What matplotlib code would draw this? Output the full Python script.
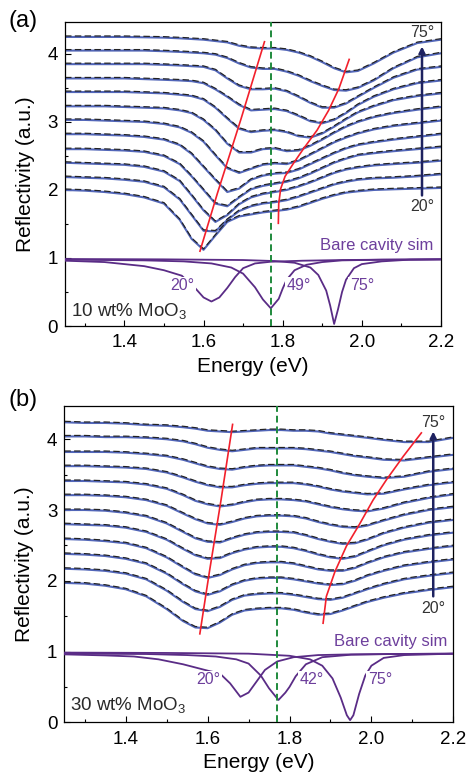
import matplotlib
matplotlib.use('Agg')
import matplotlib.pyplot as plt
from matplotlib.ticker import MultipleLocator, FormatStrFormatter
from matplotlib.transforms import offset_copy

plt.rcParams['font.family'] = ['Liberation Sans', 'DejaVu Sans']
plt.rcParams['mathtext.fontset'] = 'custom'
plt.rcParams['mathtext.rm'] = 'Liberation Sans'
plt.rcParams['mathtext.default'] = 'regular'

# energy grid (eV) shared by all measured curves
energy = [1.25, 1.30, 1.35, 1.40, 1.45, 1.50, 1.54, 1.57, 1.60, 1.63, 1.66, 1.69, 1.72,
          1.75, 1.78, 1.81, 1.84, 1.87, 1.90, 1.93, 1.96, 1.99, 2.03, 2.08, 2.14, 2.20]
angles = [20, 25, 30, 35, 40, 45, 50, 55, 60, 65, 70, 75]

# (a) 10 wt% MoO3, offset reflectivity
a20 = [2.00, 1.99, 1.97, 1.94, 1.89, 1.80, 1.56, 1.28, 1.12, 1.33, 1.53, 1.61, 1.64,
       1.67, 1.69, 1.71, 1.75, 1.81, 1.87, 1.92, 1.96, 1.98, 2.00, 2.01, 2.02, 2.03]
a25 = [2.19, 2.18, 2.17, 2.15, 2.12, 2.04, 1.86, 1.63, 1.40, 1.39, 1.56, 1.69, 1.76,
       1.80, 1.82, 1.85, 1.90, 1.96, 2.02, 2.08, 2.12, 2.15, 2.17, 2.18, 2.20, 2.23]
a30 = [2.40, 2.39, 2.38, 2.37, 2.34, 2.27, 2.13, 1.92, 1.70, 1.53, 1.63, 1.79, 1.89,
       1.94, 1.97, 2.00, 2.05, 2.11, 2.18, 2.25, 2.30, 2.33, 2.36, 2.38, 2.40, 2.43]
a35 = [2.60, 2.60, 2.59, 2.58, 2.56, 2.50, 2.38, 2.20, 2.00, 1.80, 1.76, 1.89, 2.01,
       2.06, 2.09, 2.12, 2.17, 2.24, 2.32, 2.40, 2.46, 2.51, 2.54, 2.57, 2.60, 2.63]
a40 = [2.82, 2.82, 2.81, 2.80, 2.78, 2.74, 2.66, 2.53, 2.34, 2.15, 1.97, 2.02, 2.15,
       2.21, 2.24, 2.25, 2.30, 2.38, 2.46, 2.54, 2.61, 2.66, 2.70, 2.74, 2.78, 2.82]
a45 = [3.03, 3.03, 3.02, 3.01, 3.00, 2.97, 2.92, 2.84, 2.71, 2.51, 2.32, 2.25, 2.31,
       2.37, 2.39, 2.38, 2.43, 2.52, 2.61, 2.70, 2.77, 2.83, 2.89, 2.94, 2.98, 3.02]
a50 = [3.23, 3.23, 3.23, 3.22, 3.21, 3.20, 3.17, 3.13, 3.03, 2.88, 2.68, 2.55, 2.55,
       2.60, 2.61, 2.57, 2.58, 2.65, 2.74, 2.84, 2.93, 3.00, 3.07, 3.13, 3.18, 3.22]
a55 = [3.44, 3.44, 3.44, 3.44, 3.43, 3.42, 3.40, 3.38, 3.33, 3.21, 3.05, 2.90, 2.85,
       2.87, 2.88, 2.85, 2.79, 2.77, 2.83, 2.93, 3.04, 3.14, 3.23, 3.32, 3.38, 3.42]
a60 = [3.64, 3.64, 3.64, 3.64, 3.63, 3.62, 3.61, 3.60, 3.57, 3.48, 3.37, 3.25, 3.17,
       3.18, 3.19, 3.16, 3.09, 3.01, 2.98, 3.03, 3.13, 3.25, 3.37, 3.48, 3.57, 3.61]
a65 = [3.85, 3.85, 3.85, 3.85, 3.85, 3.84, 3.83, 3.82, 3.81, 3.76, 3.64, 3.53, 3.48,
       3.48, 3.49, 3.45, 3.37, 3.28, 3.21, 3.21, 3.27, 3.37, 3.50, 3.65, 3.77, 3.81]
a70 = [4.05, 4.05, 4.05, 4.05, 4.05, 4.04, 4.03, 4.02, 4.01, 3.99, 3.94, 3.86, 3.80,
       3.78, 3.78, 3.74, 3.68, 3.60, 3.53, 3.47, 3.46, 3.50, 3.61, 3.79, 3.95, 4.01]
a75 = [4.25, 4.25, 4.25, 4.25, 4.245, 4.24, 4.23, 4.22, 4.21, 4.19, 4.17, 4.12, 4.09,
       4.08, 4.08, 4.06, 4.02, 3.96, 3.88, 3.79, 3.73, 3.75, 3.86, 4.02, 4.16, 4.21]

# (b) 30 wt% MoO3
b20 = [1.97, 1.96, 1.93, 1.88, 1.78, 1.60, 1.43, 1.34, 1.33, 1.41, 1.52, 1.58, 1.60,
       1.61, 1.61, 1.59, 1.55, 1.52, 1.53, 1.58, 1.64, 1.70, 1.76, 1.82, 1.87, 1.91]
b25 = [2.17, 2.16, 2.14, 2.10, 2.02, 1.86, 1.70, 1.60, 1.57, 1.63, 1.73, 1.79, 1.81,
       1.82, 1.82, 1.80, 1.77, 1.74, 1.73, 1.76, 1.82, 1.88, 1.95, 2.02, 2.07, 2.11]
b30 = [2.38, 2.37, 2.35, 2.31, 2.24, 2.10, 1.95, 1.85, 1.80, 1.85, 1.94, 2.00, 2.03,
       2.04, 2.04, 2.02, 1.99, 1.96, 1.94, 1.95, 2.00, 2.07, 2.14, 2.21, 2.26, 2.30]
b35 = [2.59, 2.58, 2.56, 2.53, 2.46, 2.33, 2.19, 2.09, 2.04, 2.08, 2.16, 2.22, 2.25,
       2.26, 2.26, 2.24, 2.20, 2.16, 2.14, 2.14, 2.18, 2.25, 2.33, 2.40, 2.45, 2.49]
b40 = [2.80, 2.79, 2.78, 2.75, 2.69, 2.58, 2.45, 2.36, 2.31, 2.32, 2.39, 2.44, 2.47,
       2.48, 2.48, 2.46, 2.42, 2.37, 2.33, 2.31, 2.34, 2.41, 2.50, 2.58, 2.64, 2.68]
b45 = [3.00, 3.00, 2.99, 2.96, 2.91, 2.81, 2.69, 2.60, 2.55, 2.54, 2.60, 2.65, 2.68,
       2.69, 2.69, 2.68, 2.64, 2.59, 2.55, 2.52, 2.53, 2.58, 2.67, 2.75, 2.82, 2.86]
b50 = [3.21, 3.21, 3.20, 3.18, 3.14, 3.06, 2.95, 2.87, 2.81, 2.79, 2.83, 2.88, 2.91,
       2.92, 2.92, 2.91, 2.88, 2.83, 2.79, 2.76, 2.75, 2.78, 2.85, 2.93, 3.00, 3.04]
b55 = [3.41, 3.41, 3.40, 3.39, 3.36, 3.30, 3.21, 3.13, 3.08, 3.05, 3.07, 3.11, 3.14,
       3.15, 3.15, 3.14, 3.12, 3.08, 3.04, 3.01, 2.99, 2.98, 3.02, 3.10, 3.17, 3.22]
b60 = [3.62, 3.62, 3.61, 3.60, 3.58, 3.53, 3.46, 3.40, 3.35, 3.32, 3.32, 3.35, 3.37,
       3.38, 3.38, 3.38, 3.36, 3.33, 3.29, 3.26, 3.24, 3.22, 3.23, 3.29, 3.35, 3.39]
b65 = [3.82, 3.82, 3.82, 3.81, 3.79, 3.76, 3.71, 3.66, 3.61, 3.58, 3.57, 3.60, 3.62,
       3.63, 3.63, 3.63, 3.61, 3.59, 3.56, 3.52, 3.49, 3.47, 3.45, 3.47, 3.54, 3.58]
b70 = [4.04, 4.04, 4.03, 4.03, 4.02, 4.00, 3.97, 3.93, 3.88, 3.85, 3.83, 3.85, 3.87,
       3.87, 3.87, 3.87, 3.86, 3.84, 3.82, 3.79, 3.76, 3.74, 3.71, 3.70, 3.74, 3.78]
b75 = [4.24, 4.23, 4.23, 4.22, 4.20, 4.19, 4.17, 4.15, 4.12, 4.11, 4.10, 4.11, 4.12,
       4.13, 4.13, 4.12, 4.12, 4.11, 4.08, 4.06, 4.04, 4.02, 3.99, 3.96, 3.96, 4.02]

curves_a = [a20, a25, a30, a35, a40, a45, a50, a55, a60, a65, a70, a75]
curves_b = [b20, b25, b30, b35, b40, b45, b50, b55, b60, b65, b70, b75]

# polariton branch guides (red)
lp_a_e = [1.591, 1.635, 1.695, 1.754]
lp_a_r = [1.10, 1.95, 3.05, 4.18]
up_a_e = [1.789, 1.790, 1.795, 1.806, 1.827, 1.853, 1.887, 1.916, 1.942, 1.968]
up_a_r = [1.51, 1.80, 2.02, 2.20, 2.39, 2.61, 2.88, 3.17, 3.49, 3.92]
lp_b_e = [1.581, 1.605, 1.633, 1.661]
lp_b_r = [1.25, 2.15, 3.15, 4.21]
up_b_e = [1.882, 1.890, 1.911, 1.939, 1.972, 2.004, 2.037, 2.078, 2.122]
up_b_r = [1.40, 1.78, 2.13, 2.49, 2.81, 3.14, 3.43, 3.76, 4.09]

exciton_e = 1.77

# bare cavity simulations
sim_a20_e = [1.25, 1.35, 1.45, 1.50, 1.545, 1.58, 1.60, 1.62, 1.64, 1.66, 1.68, 1.70,
             1.73, 1.77, 1.85, 1.95, 2.05, 2.20]
sim_a20_r = [0.96, 0.94, 0.88, 0.82, 0.74, 0.55, 0.42, 0.36, 0.42, 0.56, 0.72, 0.85,
             0.92, 0.945, 0.96, 0.97, 0.975, 0.98]
sim_a49_e = [1.25, 1.45, 1.55, 1.62, 1.67, 1.70, 1.73, 1.75, 1.77, 1.79, 1.80, 1.81,
             1.83, 1.86, 1.90, 1.95, 2.05, 2.20]
sim_a49_r = [0.975, 0.965, 0.95, 0.92, 0.86, 0.77, 0.57, 0.39, 0.26, 0.40, 0.55, 0.68,
             0.82, 0.90, 0.94, 0.965, 0.975, 0.98]
sim_a75_e = [1.25, 1.50, 1.70, 1.78, 1.83, 1.87, 1.89, 1.91, 1.92, 1.93, 1.94, 1.95,
             1.96, 1.98, 2.00, 2.05, 2.12, 2.20]
sim_a75_r = [0.985, 0.98, 0.97, 0.955, 0.93, 0.86, 0.75, 0.52, 0.30, 0.03, 0.25, 0.50,
             0.68, 0.85, 0.91, 0.95, 0.975, 0.98]

sim_b20_e = [1.25, 1.35, 1.42, 1.48, 1.54, 1.60, 1.63, 1.655, 1.68, 1.70, 1.72, 1.74,
             1.77, 1.81, 1.87, 1.95, 2.05, 2.20]
sim_b20_r = [0.96, 0.945, 0.93, 0.89, 0.82, 0.73, 0.69, 0.55, 0.36, 0.42, 0.58, 0.74,
             0.86, 0.92, 0.95, 0.96, 0.965, 0.97]
sim_b42_e = [1.25, 1.45, 1.55, 1.62, 1.67, 1.70, 1.73, 1.75, 1.773, 1.79, 1.80, 1.815,
             1.84, 1.88, 1.95, 2.05, 2.20]
sim_b42_r = [0.97, 0.965, 0.95, 0.93, 0.89, 0.83, 0.66, 0.48, 0.315, 0.42, 0.50, 0.65,
             0.82, 0.92, 0.955, 0.965, 0.97]
sim_b75_e = [1.25, 1.50, 1.70, 1.80, 1.85, 1.88, 1.905, 1.925, 1.94, 1.948, 1.956, 1.97,
             1.985, 2.00, 2.03, 2.08, 2.20]
sim_b75_r = [0.985, 0.98, 0.97, 0.94, 0.89, 0.80, 0.62, 0.35, 0.10, 0.03, 0.10, 0.40,
             0.66, 0.80, 0.91, 0.95, 0.97]

BLUE = '#5266b8'
NAVY = '#1e2260'
RED = '#f2202c'
GREEN = '#1f8a3c'
PURPLE = '#5a2c86'
PURPLE_TXT = '#6d3f9c'

fig = plt.figure(figsize=(4.69, 7.8), dpi=100)
ax_a = fig.add_axes([65 / 469, 1 - 326 / 780, 376 / 469, 304 / 780])
ax_b = fig.add_axes([64.3 / 469, 1 - 722.3 / 780, 389 / 469, 316.3 / 780])


def draw_panel(ax, curves, lp_e, lp_r, up_e, up_r, sims, sim_labels, arrow_x,
               arrow_lo, arrow_hi, lbl_hi, lbl_lo, sample, bare_xy):
    # measured (blue) with the fit (black dashes) sitting just on top of it
    dash_tr = offset_copy(ax.transData, fig=fig, x=0, y=1.0, units='dots')
    for vals in curves:
        ax.plot(energy, vals, color=BLUE, lw=1.5, solid_capstyle='round', zorder=2)
        ax.plot(energy, vals, color='#222222', lw=0.85, ls=(0, (5.5, 2.8)),
                transform=dash_tr, zorder=2.2)

    ax.axvline(exciton_e, color=GREEN, lw=1.4, ls=(0, (3.5, 2.0)), zorder=4)
    ax.plot(lp_e, lp_r, color=RED, lw=1.2, zorder=5)
    ax.plot(up_e, up_r, color=RED, lw=1.2, zorder=5)

    for (se, sr) in sims:
        ax.plot(se, sr, color=PURPLE, lw=1.3, zorder=3)
    for txt, (x, y) in sim_labels:
        ax.text(x, y, txt, color=PURPLE_TXT, fontsize=11.5, ha='center', va='center',
                zorder=3.5, bbox=dict(facecolor='white', edgecolor='none', pad=1.0))

    ax.text(bare_xy[0], bare_xy[1], 'Bare cavity sim', color=PURPLE_TXT, fontsize=12,
            ha='right', va='center', zorder=6)
    ax.text(1.264, sample[1], sample[0], color='#2a2a2a', fontsize=13.5,
            ha='left', va='center')

    ax.annotate('', xy=(arrow_x, arrow_hi), xytext=(arrow_x, arrow_lo),
                arrowprops=dict(arrowstyle='-|>', color=NAVY, lw=1.8,
                                mutation_scale=9, shrinkA=0, shrinkB=0), zorder=6)
    ax.text(arrow_x, lbl_hi, '75°', color='#333333', fontsize=11.5,
            ha='center', va='center')
    ax.text(arrow_x, lbl_lo, '20°', color='#333333', fontsize=11.5,
            ha='center', va='center')

    ax.set_xlim(1.25, 2.2)
    ax.set_ylim(0, 4.47)
    ax.xaxis.set_major_locator(MultipleLocator(0.2))
    ax.xaxis.set_minor_locator(MultipleLocator(0.1))
    ax.yaxis.set_major_locator(MultipleLocator(1))
    ax.yaxis.set_minor_locator(MultipleLocator(0.5))
    ax.xaxis.set_major_formatter(FormatStrFormatter('%.1f'))
    ax.tick_params(which='both', direction='in', top=False, right=False,
                   labelsize=13.5, width=0.8)
    ax.tick_params(which='major', length=4)
    ax.tick_params(which='minor', length=2.5)
    ax.tick_params(axis='x', pad=6)
    ax.tick_params(axis='y', pad=5)
    for sp in ax.spines.values():
        sp.set_linewidth(0.9)
    ax.set_xlabel('Energy (eV)', fontsize=15, labelpad=4)
    ax.set_ylabel('Reflectivity (a.u.)', fontsize=15, labelpad=9)


draw_panel(ax_a, curves_a, lp_a_e, lp_a_r, up_a_e, up_a_r,
           [(sim_a20_e, sim_a20_r), (sim_a49_e, sim_a49_r), (sim_a75_e, sim_a75_r)],
           [('20°', (1.546, 0.59)), ('49°', (1.84, 0.59)), ('75°', (2.0, 0.59))],
           2.152, 1.92, 4.11, 4.32, 1.75, ('10 wt% MoO$_3$', 0.22), (2.18, 1.19))
draw_panel(ax_b, curves_b, lp_b_e, lp_b_r, up_b_e, up_b_r,
           [(sim_b20_e, sim_b20_r), (sim_b42_e, sim_b42_r), (sim_b75_e, sim_b75_r)],
           [('20°', (1.602, 0.60)), ('42°', (1.854, 0.60)), ('75°', (2.021, 0.60))],
           2.151, 1.78, 4.11, 4.24, 1.61, ('30 wt% MoO$_3$', 0.245), (2.185, 1.14))

fig.text(8 / 469, 1 - 21 / 780, '(a)', fontsize=17, ha='left', va='center')
fig.text(8 / 469, 1 - 400 / 780, '(b)', fontsize=17, ha='left', va='center')

fig.savefig('out.png', dpi=100)
